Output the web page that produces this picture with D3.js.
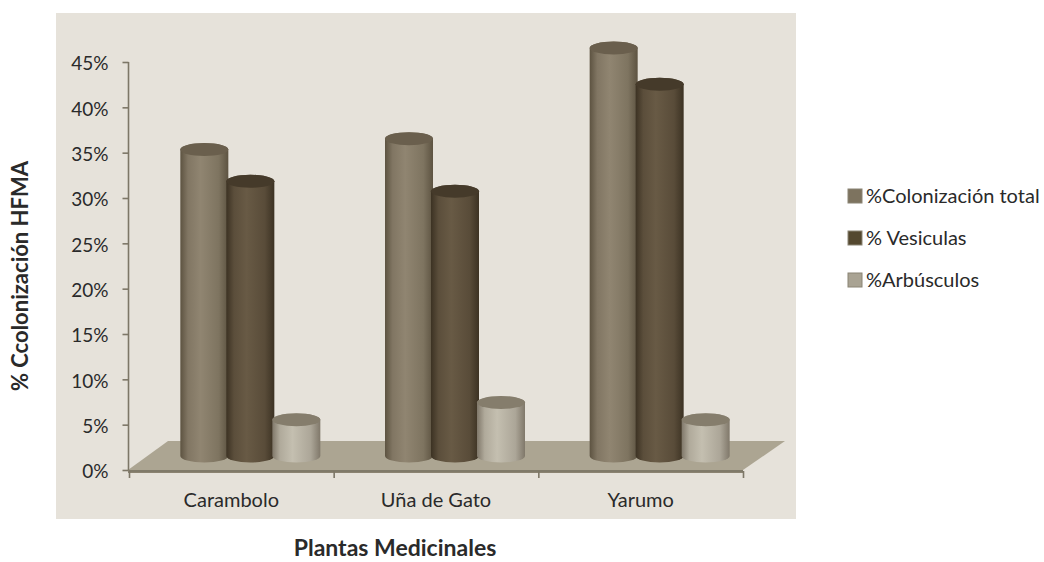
<!DOCTYPE html>
<html><head><meta charset="utf-8">
<script src="https://cdn.jsdelivr.net/npm/d3@7"></script>
<style>html,body{margin:0;background:#fff}svg{display:block}text{font-family:Lato,"Open Sans",sans-serif;fill:#2a2a2a}</style>
</head><body><svg id="c" width="1044" height="562"></svg>
<script>
const categories = ["Carambolo","Uña de Gato","Yarumo"];
const seriesNames = ["%Colonización total","% Vesiculas","%Arbúsculos"];
const colonizacion = [33.8,35.0,45.0];
const vesiculas = [30.3,29.2,41.0];
const arbusculos = [4.0,5.9,4.0];
const yTicks = [0,5,10,15,20,25,30,35,40,45];
const seriesValues = [colonizacion,vesiculas,arbusculos];
const palettes = [
 {edge:"#5d5341",mid:"#908571",top:"#6a5f4d",key:"#7d735f"},
 {edge:"#3c3223",mid:"#685a45",top:"#453a2a",key:"#54482f"},
 {edge:"#80786a",mid:"#c4bfb0",top:"#857d6c",key:"#a9a393"}
];
const svg = d3.select("#c");
const defs = svg.append("defs");
palettes.forEach((p,i)=>{
  const g = defs.append("linearGradient").attr("id","g"+i);
  [[0,p.edge],[.16,d3.interpolateRgb(p.edge,p.mid)(.7)],[.42,p.mid],[.8,d3.interpolateRgb(p.edge,p.mid)(.65)],[1,p.edge]]
    .forEach(s=>g.append("stop").attr("offset",s[0]).attr("stop-color",s[1]));
});
svg.append("rect").attr("x",56).attr("y",13).attr("width",740).attr("height",506).attr("fill","#e6e2da");

const y = d3.scaleLinear().domain([0,45]).range([470,62]);
const x = d3.scaleBand().domain(categories).range([129,743]);
const s = d3.scaleBand().domain(d3.range(3)).range([0,138]);
const dx=19, depth=14, ry=6.5;

// floor
svg.append("path").attr("d","M128,470L168,441L785,441L743,470Z").attr("fill","#aca592");
svg.append("path").attr("d","M128,470L743,470L743,473L128,473Z").attr("fill","#8b8371");

// axes
const ay = d3.axisLeft(y).tickValues(yTicks).tickFormat(d=>d+"%").tickSize(6);
const gy = svg.append("g").attr("transform","translate(128.5,0)").call(ay);
const ax = d3.axisBottom(d3.scaleLinear().domain([0,3]).range([129,743])).tickValues([0,1,2,3]).tickFormat("").tickSize(7);
const gx = svg.append("g").attr("transform","translate(0,471)").call(ax);
[gy,gx].forEach(g=>{g.selectAll("path,line").attr("stroke","#7d7767").attr("stroke-width",1.6);});
gy.select("path").attr("d","M0,62V470");
gx.select("path").attr("d","M129,0H743");
gy.selectAll("text").attr("font-size",19).attr("x",-20).attr("dy","0.42em").style("fill","#2a2a2a");

categories.forEach(c=>{
  svg.append("text").attr("x",x(c)+x.bandwidth()/2).attr("y",507).attr("text-anchor","middle").attr("font-size",20).text(c);
});

// cylinders
const bw = 48, rx = bw/2;
const shape = (cx,yt,yb)=>`M${cx-rx},${yt}A${rx},${ry} 0 0 1 ${cx+rx},${yt}V${yb}A${rx},${ry} 0 0 1 ${cx-rx},${yb}Z`;
const centre = (si,ci)=>x(categories[ci]) + x.bandwidth()/2 + dx + s(si) + s.bandwidth()/2 - 69;
seriesValues.forEach((vals,si)=>{
  vals.forEach((v,ci)=>{
    const cx = centre(si,ci), yt = y(v)-depth, yb = y(0)-depth;
    svg.append("path").attr("d",shape(cx,yt,yb)).attr("fill",`url(#g${si})`);
    svg.append("ellipse").attr("cx",cx).attr("cy",yt).attr("rx",rx).attr("ry",ry).attr("fill",palettes[si].top);
  });
});

// legend
seriesNames.forEach((n,i)=>{
  const ly = 196+i*42;
  svg.append("rect").attr("x",848).attr("y",ly-7).attr("width",14).attr("height",14)
    .attr("fill",palettes[i].key).attr("stroke","#8a8474");
  svg.append("text").attr("x",866).attr("y",ly+7).attr("font-size",20).text(n);
});

svg.append("text").attr("transform","translate(28,276) rotate(-90)").attr("text-anchor","middle").attr("font-size",22).attr("font-weight",700).text("% Ccolonización HFMA");
svg.append("text").attr("x",395).attr("y",556).attr("text-anchor","middle").attr("font-size",23).attr("font-weight",700).text("Plantas Medicinales");
</script></body></html>
